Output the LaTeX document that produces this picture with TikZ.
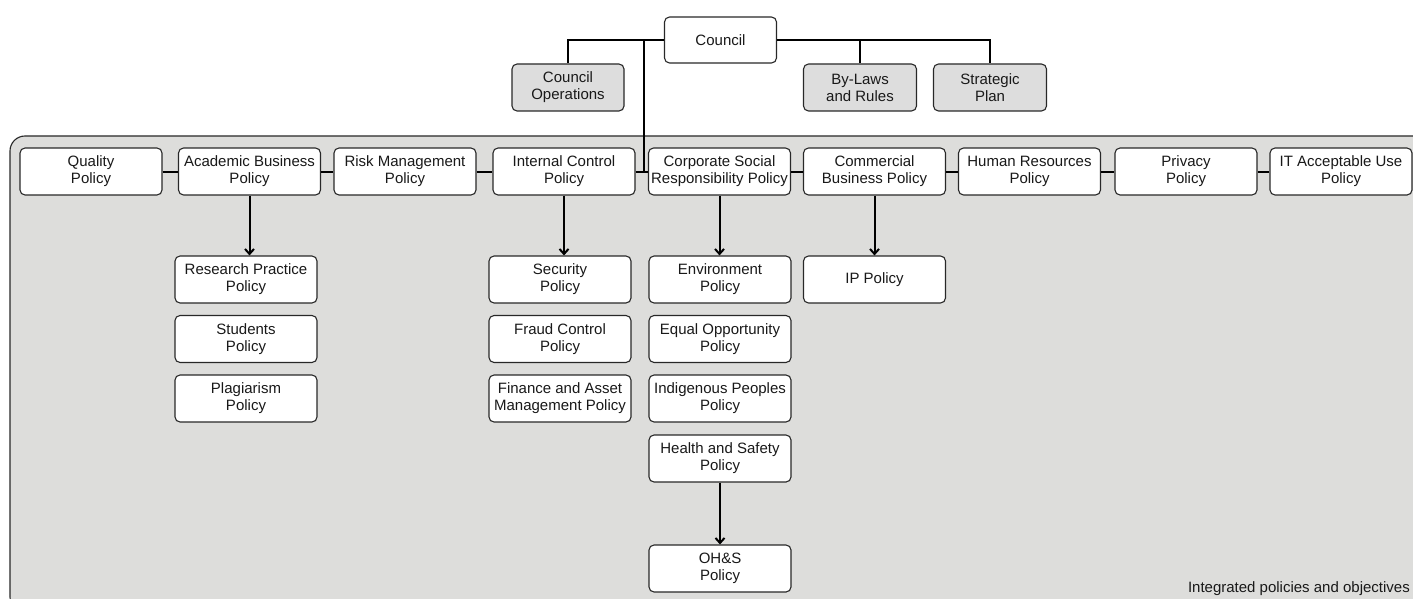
\documentclass[tikz,border=0pt]{standalone}
\usepackage{fontspec}
\setmainfont{Liberation Sans}
\usetikzlibrary{arrows.meta,calc}
\definecolor{bggray}{RGB}{221,221,219}
\definecolor{boxgray}{RGB}{221,221,221}
\definecolor{edgecol}{RGB}{40,40,40}
\definecolor{txtcol}{RGB}{25,25,25}
\tikzset{
  pbox/.style={draw=edgecol, line width=1.1pt, fill=white, rounded corners=5pt,
    minimum width=142pt, minimum height=47pt, inner sep=0pt, align=center, text=txtcol},
  gbox/.style={pbox, fill=boxgray, minimum width=112pt},
  conn/.style={line width=2pt, black},
  arr/.style={conn, -{Straight Barb[length=5pt,width=9pt]}},
}
\begin{document}
\begin{tikzpicture}[x=1pt, y=-1pt, font=\fontsize{15}{17}\selectfont]
\useasboundingbox (0,0) rectangle (1413,599);
\clip (0,0) rectangle (1413,599);
% background panel
\filldraw[fill=bggray, draw=edgecol, line width=1.1pt, rounded corners=15pt] (10,136) rectangle (1440,612);
% top level
\node[pbox, fill=white, minimum width=112pt, minimum height=46pt] (council) at (720.5,40) {Council};
\node[gbox] (cops) at (568,87.5) {Council\\Operations};
\node[gbox, minimum width=113pt] (bylaws) at (860,87.5) {By-Laws\\and Rules};
\node[gbox, minimum width=113pt] (strat) at (990,87.5) {Strategic\\Plan};
% policy row
\node[pbox] (quality) at (91,171.5) {Quality\\Policy};
\node[pbox] (academic) at (249.5,171.5) {Academic Business\\Policy};
\node[pbox] (risk) at (405,171.5) {Risk Management\\Policy};
\node[pbox] (internal) at (564,171.5) {Internal Control\\Policy};
\node[pbox] (csr) at (719.5,171.5) {Corporate Social\\Responsibility Policy};
\node[pbox] (commercial) at (874.5,171.5) {Commercial\\Business Policy};
\node[pbox] (hr) at (1029.5,171.5) {Human Resources\\Policy};
\node[pbox] (privacy) at (1186,171.5) {Privacy\\Policy};
\node[pbox] (ituse) at (1341,171.5) {IT Acceptable Use\\Policy};
% children
\node[pbox] (research) at (246,279.5) {Research Practice\\Policy};
\node[pbox] (students) at (246,339) {Students\\Policy};
\node[pbox] (plag) at (246,398.5) {Plagiarism\\Policy};
\node[pbox] (security) at (560,279.5) {Security\\Policy};
\node[pbox] (fraud) at (560,339) {Fraud Control\\Policy};
\node[pbox] (finance) at (560,398.5) {Finance and Asset\\Management Policy};
\node[pbox] (env) at (720,279.5) {Environment\\Policy};
\node[pbox] (equal) at (720,339) {Equal Opportunity\\Policy};
\node[pbox] (indig) at (720,398.5) {Indigenous Peoples\\Policy};
\node[pbox] (hs) at (720,458.5) {Health and Safety\\Policy};
\node[pbox] (ohs) at (720,568.5) {OH\&S\\Policy};
\node[pbox] (ip) at (874.5,279.5) {IP Policy};
% panel label
\node[anchor=south east, inner sep=0pt, text=txtcol] (panellabel) at (1410,596) {Integrated policies and objectives};
% connectors top
\draw[conn] (council.west) -| (cops.north);
\draw[conn] (council.east) -| (strat.north);
\draw[conn] (bylaws.north) -- (bylaws.north |- council.east);
\coordinate (drop) at (643.5,40);
\draw[conn] (drop) -- (drop |- internal.east);
% row connectors
\foreach \a/\b in {quality/academic, academic/risk, risk/internal, internal/csr,
  csr/commercial, commercial/hr, hr/privacy, privacy/ituse}
  \draw[conn] (\a.east) -- (\b.west);
% arrows
\draw[arr] (academic.south) -- (academic.south |- research.north);
\draw[arr] (internal.south) -- (internal.south |- security.north);
\draw[arr] (csr.south) -- (csr.south |- env.north);
\draw[arr] (commercial.south) -- (commercial.south |- ip.north);
\draw[arr] (hs.south) -- (ohs.north);
\end{tikzpicture}
\end{document}
